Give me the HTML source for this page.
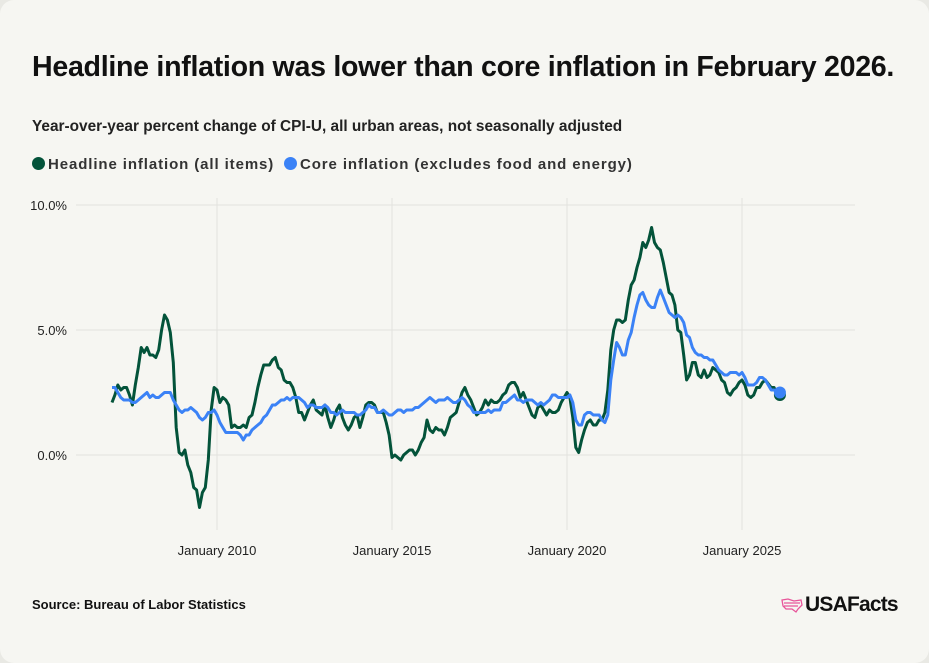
<!DOCTYPE html>
<html><head><meta charset="utf-8"><style>
html,body{margin:0;padding:0;background:#e9e9e4;}
.card{position:absolute;left:0;top:0;width:929px;height:663px;background:#f6f6f2;border-radius:14px;font-family:"Liberation Sans",sans-serif;color:#111;}
.t{position:absolute;left:32px;top:51px;font-size:28.6px;font-weight:bold;letter-spacing:-0.3px;}
.s{position:absolute;left:32px;top:118px;font-size:15.4px;font-weight:bold;color:#222;}
.lg{position:absolute;top:156px;font-size:15px;font-weight:bold;color:#333;letter-spacing:0.9px;}
.dot{display:inline-block;width:13px;height:13px;border-radius:50%;vertical-align:-1px;margin-right:3px;}
.src{position:absolute;left:32px;top:597px;font-size:13px;font-weight:bold;}
.logo{position:absolute;left:805px;top:593px;font-size:21px;font-weight:bold;letter-spacing:-0.8px;}
</style></head><body><div class="card">
<div class="t">Headline inflation was lower than core inflation in February 2026.</div>
<div class="s">Year-over-year percent change of CPI-U, all urban areas, not seasonally adjusted</div>
<div class="lg" style="left:32px"><span class="dot" style="background:#03533a"></span>Headline inflation (all items)</div>
<div class="lg" style="left:284px"><span class="dot" style="background:#3b82f6"></span>Core inflation (excludes food and energy)</div>
<svg id="c" width="929" height="663" style="position:absolute;left:0;top:0"></svg>
<div class="src">Source: Bureau of Labor Statistics</div>
<svg style="position:absolute;left:780px;top:597px" width="24" height="16"><path d="M2 3 L8 2 L14 4 L21 3 L22 8 L18 12 L16 15 L12 12 L6 12 L3 9 Z M4 6 L20 6 M4 9 L18 9" fill="none" stroke="#e8559a" stroke-width="1.3"/></svg>
<div class="logo">USAFacts</div>
</div>
<script>
var H=[2.1,2.4,2.8,2.6,2.7,2.7,2.4,2.0,2.8,3.5,4.3,4.1,4.3,4.0,4.0,3.9,4.2,5.0,5.6,5.4,4.9,3.7,1.1,0.1,0.0,0.2,-0.4,-0.7,-1.3,-1.4,-2.1,-1.5,-1.3,-0.2,1.8,2.7,2.6,2.1,2.3,2.2,2.0,1.1,1.2,1.1,1.1,1.2,1.1,1.5,1.6,2.1,2.7,3.2,3.6,3.6,3.6,3.8,3.9,3.5,3.4,3.0,2.9,2.9,2.7,2.3,1.7,1.7,1.4,1.7,2.0,2.2,1.8,1.7,1.6,2.0,1.5,1.1,1.4,1.8,2.0,1.5,1.2,1.0,1.2,1.5,1.6,1.1,1.5,2.0,2.1,2.1,2.0,1.7,1.7,1.7,1.3,0.8,-0.1,0.0,-0.1,-0.2,0.0,0.1,0.2,0.2,0.0,0.2,0.5,0.7,1.4,1.0,0.9,1.1,1.0,1.0,0.8,1.1,1.5,1.6,1.7,2.1,2.5,2.7,2.4,2.2,1.9,1.6,1.7,1.9,2.2,2.0,2.2,2.1,2.1,2.2,2.4,2.5,2.8,2.9,2.9,2.7,2.3,2.5,2.2,1.9,1.6,1.5,1.9,2.0,1.8,1.6,1.8,1.7,1.7,1.8,2.1,2.3,2.5,2.3,1.5,0.3,0.1,0.6,1.0,1.3,1.4,1.2,1.2,1.4,1.4,1.7,2.6,4.2,5.0,5.4,5.4,5.3,5.4,6.2,6.8,7.0,7.5,7.9,8.5,8.3,8.6,9.1,8.5,8.3,8.2,7.7,7.1,6.5,6.4,6.0,5.0,4.9,4.0,3.0,3.2,3.7,3.7,3.2,3.1,3.4,3.1,3.2,3.5,3.4,3.3,3.0,2.9,2.5,2.4,2.6,2.7,2.9,3.0,2.8,2.4,2.3,2.4,2.7,2.7,2.9,3.0,2.85,2.7,2.7,2.4,2.4];
var C=[2.7,2.7,2.5,2.3,2.2,2.2,2.2,2.1,2.1,2.2,2.3,2.4,2.5,2.3,2.4,2.3,2.3,2.4,2.5,2.5,2.5,2.2,2.0,1.8,1.7,1.8,1.8,1.9,1.8,1.7,1.5,1.4,1.5,1.7,1.7,1.8,1.6,1.3,1.1,0.9,0.9,0.9,0.9,0.9,0.8,0.6,0.8,0.8,1.0,1.1,1.2,1.3,1.5,1.6,1.8,2.0,2.0,2.1,2.2,2.2,2.3,2.2,2.3,2.3,2.3,2.2,2.1,1.9,2.0,2.0,1.9,1.9,1.9,2.0,1.9,1.7,1.7,1.6,1.7,1.8,1.7,1.7,1.7,1.7,1.6,1.6,1.7,1.8,2.0,1.9,1.9,1.7,1.7,1.8,1.7,1.6,1.6,1.7,1.8,1.8,1.7,1.8,1.8,1.8,1.9,1.9,2.0,2.1,2.2,2.3,2.2,2.1,2.2,2.2,2.2,2.3,2.2,2.1,2.1,2.2,2.3,2.2,2.0,1.9,1.7,1.7,1.7,1.7,1.7,1.8,1.7,1.8,1.8,1.8,2.1,2.1,2.2,2.3,2.4,2.2,2.2,2.1,2.2,2.2,2.2,2.1,2.0,2.1,2.0,2.1,2.2,2.4,2.4,2.3,2.3,2.3,2.3,2.4,2.1,1.4,1.2,1.2,1.6,1.7,1.7,1.6,1.6,1.6,1.4,1.3,1.6,3.0,3.8,4.5,4.3,4.0,4.0,4.6,4.9,5.5,6.0,6.4,6.5,6.2,6.0,5.9,5.9,6.3,6.6,6.3,6.0,5.7,5.6,5.5,5.6,5.5,5.3,4.8,4.7,4.3,4.1,4.0,4.0,3.9,3.9,3.8,3.8,3.6,3.4,3.3,3.2,3.2,3.3,3.3,3.3,3.2,3.3,3.1,2.8,2.8,2.8,2.9,3.1,3.1,3.0,2.8,2.6,2.6,2.5,2.5];
function X(i){return 217+(i-36)*35/12;}function Y(v){return 455-25*v;}
var s='';
[0,5,10].forEach(function(v){s+='<line x1="76" x2="855" y1="'+Y(v)+'" y2="'+Y(v)+'" stroke="#e2e2de"/>';s+='<text x="67" y="'+(Y(v)+5)+'" text-anchor="end" font-family="Liberation Sans" font-size="13" fill="#222">'+v.toFixed(1)+'%</text>';});
[2010,2015,2020,2025].forEach(function(y){var x=217+(y-2010)*35;s+='<line x1="'+x+'" x2="'+x+'" y1="198" y2="530" stroke="#e2e2de"/>';s+='<text x="'+x+'" y="555" text-anchor="middle" font-family="Liberation Sans" font-size="13" fill="#222">January '+y+'</text>';});
function p(a){return a.map(function(v,i){return (i?'L':'M')+X(i).toFixed(1)+' '+Y(v).toFixed(1);}).join('');}
s+='<path d="'+p(H)+'" fill="none" stroke="#03533a" stroke-width="3" stroke-linejoin="round"/>';
s+='<path d="'+p(C)+'" fill="none" stroke="#3b82f6" stroke-width="3" stroke-linejoin="round"/>';
var n=H.length-1;
s+='<circle cx="'+X(n)+'" cy="'+Y(H[n])+'" r="6" fill="#03533a"/>';
s+='<circle cx="'+X(n)+'" cy="'+Y(C[n])+'" r="6" fill="#3b82f6"/>';
document.getElementById('c').innerHTML=s;
</script>
</body></html>
